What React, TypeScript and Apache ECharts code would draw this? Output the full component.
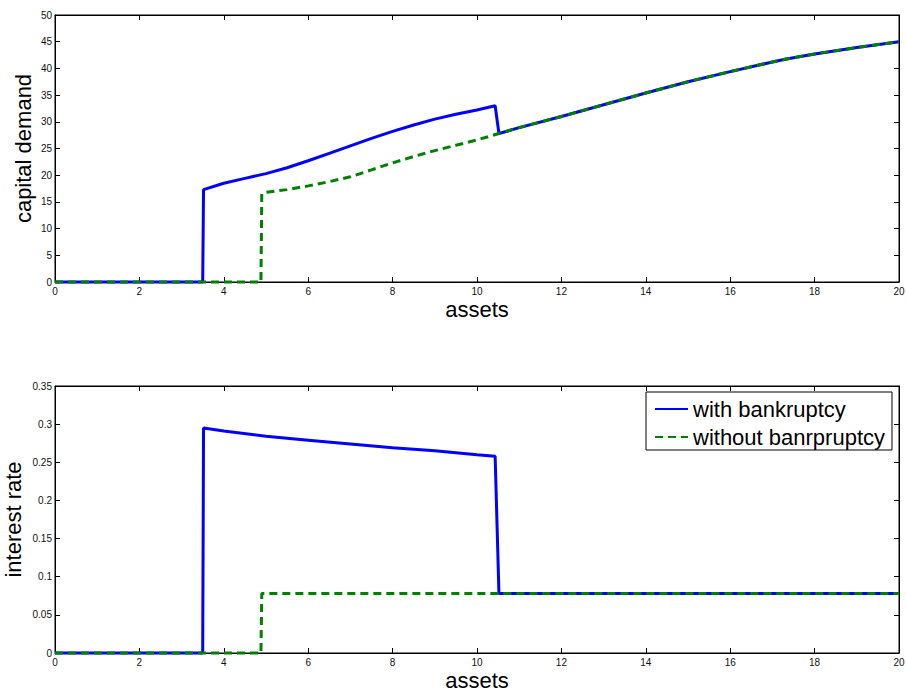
import React, { useEffect, useRef } from "react";
import * as echarts from "echarts";

// ---- data ----
const xTicks = [0, 2, 4, 6, 8, 10, 12, 14, 16, 18, 20];
const capTicks = [0, 5, 10, 15, 20, 25, 30, 35, 40, 45, 50];
const rateTicks = [0, 0.05, 0.1, 0.15, 0.2, 0.25, 0.3, 0.35];

const seriesNames = ["with bankruptcy", "without banrpruptcy"];

// capital demand, with bankruptcy
const capWithX = [0, 3.5, 3.52, 4, 4.5, 5, 5.5, 6, 6.5, 7, 7.5, 8, 8.5, 9, 9.5, 10, 10.43, 10.52, 11, 12, 13, 14, 15, 16, 17, 17.3, 18, 19, 20];
const capWithY = [0, 0, 17.3, 18.5, 19.4, 20.3, 21.4, 22.7, 24.1, 25.5, 26.9, 28.2, 29.4, 30.5, 31.4, 32.2, 33.0, 27.8, 28.9, 31.0, 33.2, 35.4, 37.5, 39.4, 41.2, 41.7, 42.7, 43.9, 45.0];

// capital demand, without bankruptcy
const capWithoutX = [0, 4.88, 4.9, 5, 5.5, 6, 6.5, 7, 7.5, 8, 8.5, 9, 9.5, 10, 10.52, 11, 12, 13, 14, 15, 16, 17, 17.3, 18, 19, 20];
const capWithoutY = [0, 0, 16.5, 16.8, 17.3, 18.0, 18.8, 19.7, 21.0, 22.3, 23.5, 24.6, 25.6, 26.6, 27.8, 28.9, 31.0, 33.2, 35.4, 37.5, 39.4, 41.2, 41.7, 42.7, 43.9, 45.0];

// interest rate, with bankruptcy
const rateWithX = [0, 3.5, 3.52, 4, 5, 6, 7, 8, 9, 10, 10.43, 10.52, 20];
const rateWithY = [0, 0, 0.295, 0.291, 0.284, 0.279, 0.274, 0.269, 0.265, 0.26, 0.258, 0.078, 0.078];

// interest rate, without bankruptcy
const rateWithoutX = [0, 4.88, 4.9, 20];
const rateWithoutY = [0, 0, 0.078, 0.078];

const zip = (xs: number[], ys: number[]) => xs.map((x, i) => [x, ys[i]]);

const FONT = "'Liberation Sans', Arial, Helvetica, sans-serif";
const BLUE = "#0000ff";
const GREEN = "#008000";

export default function App() {
  const ref = useRef<HTMLDivElement>(null);

  useEffect(() => {
    if (!ref.current) return;
    const chart = echarts.init(ref.current, null, { renderer: "svg" });

    const grids = [
      { left: 55, top: 15, width: 844, height: 267 },
      { left: 55, top: 386, width: 844, height: 267 },
    ].map((g) => ({
      ...g,
      show: true,
      borderColor: "#000",
      borderWidth: 1,
      backgroundColor: "#fff",
      containLabel: false,
      outerBoundsMode: "none",
    }));

    const xBase = (gi: number, top: boolean) => ({
      type: "value",
      gridIndex: gi,
      position: top ? "top" : "bottom",
      min: xTicks[0],
      max: xTicks[xTicks.length - 1],
      interval: xTicks[1] - xTicks[0],
      name: top ? "" : "assets",
      nameLocation: "middle",
      nameGap: 20,
      nameMoveOverlap: false,
      nameTextStyle: { fontFamily: FONT, fontSize: 22, color: "#000", lineHeight: 14 },
      axisLine: { show: true, onZero: false, lineStyle: { color: "#000", width: 1 } },
      axisTick: { show: true, inside: true, length: 5, lineStyle: { color: "#000" } },
      axisLabel: { show: !top, fontFamily: FONT, fontSize: 10, color: "#111", margin: 4 },
      splitLine: { show: false },
    });

    const yBase = (gi: number, right: boolean, ticks: number[], name: string, gap: number) => ({
      type: "value",
      gridIndex: gi,
      position: right ? "right" : "left",
      min: ticks[0],
      max: ticks[ticks.length - 1],
      interval: ticks[1] - ticks[0],
      name: right ? "" : name,
      nameLocation: "middle",
      nameGap: gap,
      nameRotate: 90,
      nameMoveOverlap: false,
      nameTextStyle: { fontFamily: FONT, fontSize: 22, color: "#000", lineHeight: 22 },
      axisLine: { show: true, onZero: false, lineStyle: { color: "#000", width: 1 } },
      axisTick: { show: true, inside: true, length: 5, lineStyle: { color: "#000" } },
      axisLabel: { show: !right, fontFamily: FONT, fontSize: 10, color: "#111", margin: 3 },
      splitLine: { show: false },
    });

    const lineSeries = (name: string, data: number[][], xi: number, yi: number, dashed: boolean) => ({
      type: "line",
      name,
      data,
      xAxisIndex: xi,
      yAxisIndex: yi,
      symbol: "none",
      showSymbol: false,
      smooth: false,
      clip: false,
      lineStyle: {
        color: dashed ? GREEN : BLUE,
        width: 3,
        type: dashed ? [8, 5] : "solid",
      },
      itemStyle: { color: dashed ? GREEN : BLUE },
    });

    chart.setOption({
      animation: false,
      backgroundColor: "#fff",
      textStyle: { fontFamily: FONT },
      grid: grids,
      xAxis: [xBase(0, false), xBase(0, true), xBase(1, false), xBase(1, true)],
      yAxis: [
        yBase(0, false, capTicks, "capital demand", 21),
        yBase(0, true, capTicks, "", 0),
        yBase(1, false, rateTicks, "interest rate", 31),
        yBase(1, true, rateTicks, "", 0),
      ],
      legend: {
        show: true,
        orient: "vertical",
        left: 646,
        top: 392,
        data: seriesNames,
        itemWidth: 33,
        itemHeight: 14,
        itemGap: 6,
        padding: [6, 7, 2, 8],
        borderColor: "#000",
        borderWidth: 1,
        backgroundColor: "#fff",
        itemStyle: { opacity: 0, color: "transparent", borderWidth: 0 },
        textStyle: { fontFamily: FONT, fontSize: 22, color: "#000" },
        selectedMode: false,
      },
      series: [
        lineSeries(seriesNames[0], zip(capWithX, capWithY), 0, 0, false),
        lineSeries(seriesNames[1], zip(capWithoutX, capWithoutY), 0, 0, true),
        lineSeries(seriesNames[0], zip(rateWithX, rateWithY), 2, 2, false),
        lineSeries(seriesNames[1], zip(rateWithoutX, rateWithoutY), 2, 2, true),
      ],
    });

    return () => chart.dispose();
  }, []);

  return (
    <div
      ref={ref}
      style={{ position: "absolute", left: 0, top: 0, width: 906, height: 691, background: "#fff" }}
    />
  );
}
